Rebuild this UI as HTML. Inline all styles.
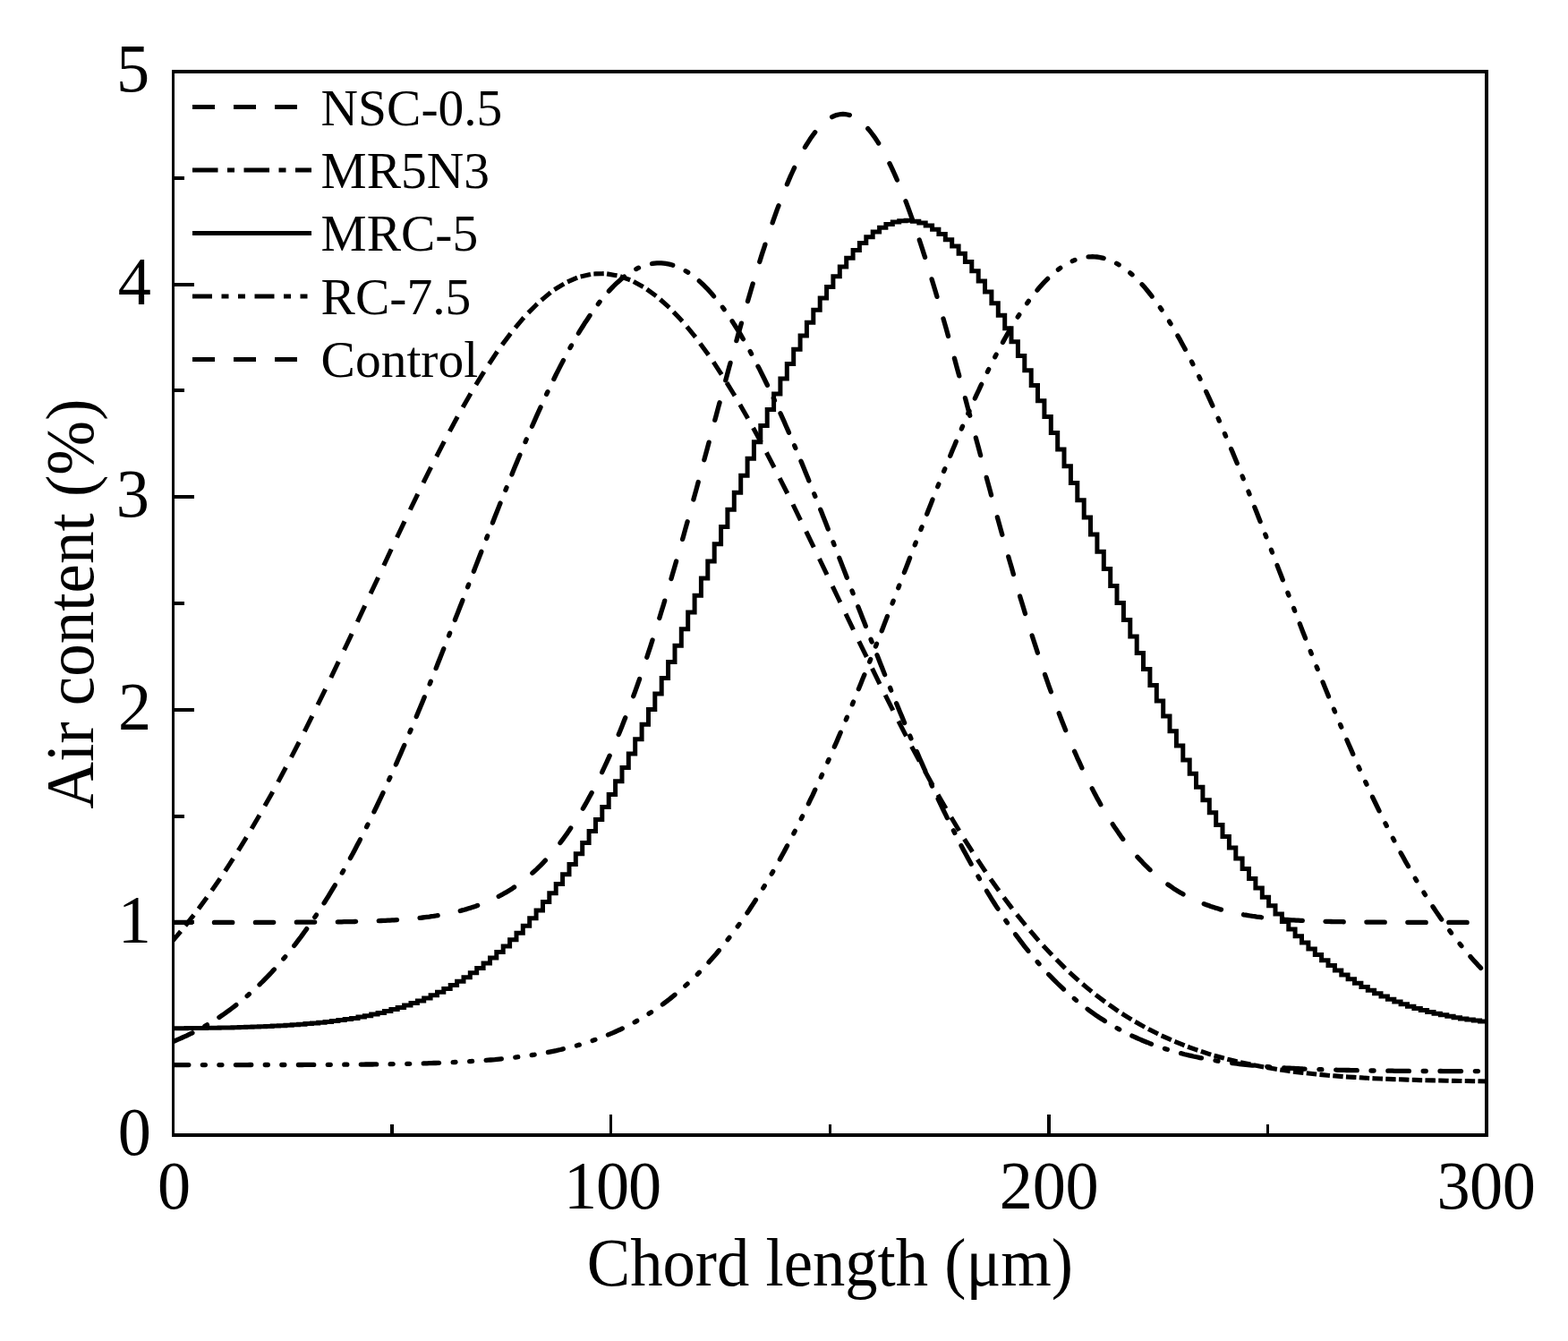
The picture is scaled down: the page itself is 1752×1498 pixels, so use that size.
<!DOCTYPE html>
<html lang="en"><head><meta charset="utf-8"><title>Air content vs chord length</title>
<style>html,body{margin:0;padding:0;background:#fff}body{width:1752px;height:1498px;overflow:hidden}svg{display:block}text{font-family:"Liberation Serif","Times New Roman",serif;fill:#000}</style>
</head><body>
<svg width="1752" height="1498" viewBox="0 0 1752 1498" role="img" aria-label="Air content versus chord length">
<rect x="0" y="0" width="1752" height="1498" fill="#fff"/>
<defs><clipPath id="plot"><rect x="192" y="78" width="1471" height="1192"/></clipPath></defs>
<g clip-path="url(#plot)" fill="none" stroke="#000" stroke-linecap="round" stroke-linejoin="round">
<path d="M193.9 1049.9 L200.3 1042.4 M208.6 1032.2 L215.0 1024.1 M223.4 1013.1 L229.7 1004.5 M238.1 992.7 L244.5 983.5 M252.9 971.0 L259.2 961.2 M267.6 948.0 L274.0 937.6 M282.4 923.6 L288.7 912.8 M297.1 898.1 L303.5 886.7 M311.9 871.4 L318.2 859.5 M326.6 843.6 L333.0 831.3 M341.4 814.8 L347.7 802.1 M356.1 785.1 L362.5 772.1 M370.9 754.7 L377.2 741.4 M385.6 723.8 L392.0 710.3 M400.4 692.4 L406.7 678.9 M415.1 660.9 L421.5 647.3 M429.9 629.4 L436.2 615.8 M444.6 598.1 L451.0 584.7 M459.4 567.2 L465.7 554.1 M474.1 537.0 L480.5 524.2 M488.9 507.7 L495.2 495.4 M503.6 479.6 L510.0 467.8 M518.4 452.8 L524.7 441.7 M533.1 427.7 L539.5 417.4 M547.9 404.4 L554.2 394.9 M562.6 383.1 L569.0 374.6 M577.4 364.1 L583.7 356.7 M592.1 347.6 L598.5 341.2 M606.9 333.6 L613.2 328.4 M621.6 322.3 L628.0 318.4 M636.4 313.9 L642.7 311.2 M651.1 308.4 L657.5 307.0 M665.9 305.9 L672.2 305.7 M680.6 306.3 L687.0 307.4 M695.3 309.6 L701.7 311.9 M710.1 315.7 L716.5 319.2 M724.8 324.6 L731.2 329.3 M739.6 336.2 L746.0 341.9 M754.3 350.3 L760.7 357.1 M769.1 366.8 L775.5 374.7 M783.8 385.7 L790.2 394.5 M798.6 406.6 L804.9 416.3 M813.3 429.5 L819.7 440.0 M828.1 454.2 L834.4 465.3 M842.8 480.3 L849.2 492.0 M857.6 507.8 L863.9 520.0 M872.3 536.4 L878.7 549.0 M887.1 565.8 L893.4 578.8 M901.8 595.9 L908.2 609.1 M916.6 626.5 L922.9 639.7 M931.3 657.2 L937.7 670.5 M946.1 688.0 L952.4 701.2 M960.8 718.6 L967.2 731.7 M975.6 748.9 L981.9 761.8 M990.3 778.7 L996.7 791.3 M1005.1 807.8 L1011.4 820.1 M1019.8 836.1 L1026.2 848.0 M1034.6 863.5 L1040.9 875.0 M1049.3 889.9 L1055.7 901.0 M1064.1 915.2 L1070.4 925.8 M1078.8 939.4 L1085.2 949.4 M1093.6 962.3 L1099.9 971.8 M1108.3 984.0 L1114.7 993.0 M1123.1 1004.5 L1129.4 1012.9 M1137.8 1023.6 L1144.2 1031.5 M1152.6 1041.5 L1158.9 1048.9 M1167.3 1058.2 L1173.7 1065.0 M1182.1 1073.6 L1188.4 1079.9 M1196.8 1087.8 L1203.2 1093.6 M1211.6 1100.9 L1217.9 1106.1 M1226.3 1112.8 L1232.7 1117.6 M1241.1 1123.7 L1247.4 1128.1 M1255.8 1133.6 L1262.2 1137.6 M1270.5 1142.5 L1276.9 1146.1 M1285.3 1150.6 L1291.7 1153.8 M1300.0 1157.9 L1306.4 1160.7 M1314.8 1164.3 L1321.2 1166.9 M1329.5 1170.1 L1335.9 1172.4 M1344.3 1175.2 L1350.7 1177.3 M1359.0 1179.8 L1365.4 1181.5 M1373.8 1183.8 L1380.1 1185.3 M1388.5 1187.3 L1394.9 1188.6 M1403.3 1190.3 L1409.6 1191.5 M1418.0 1193.0 L1424.4 1194.1 M1432.8 1195.3 L1439.1 1196.3 M1447.5 1197.4 L1453.9 1198.1 M1462.3 1199.1 L1468.6 1199.8 M1477.0 1200.6 L1483.4 1201.2 M1491.8 1201.9 L1498.1 1202.4 M1506.5 1203.0 L1512.9 1203.4 M1521.3 1203.9 L1527.6 1204.3 M1536.0 1204.7 L1542.4 1205.0 M1550.8 1205.4 L1557.1 1205.6 M1565.5 1205.9 L1571.9 1206.1 M1580.3 1206.4 L1586.6 1206.6 M1595.0 1206.8 L1601.4 1206.9 M1609.8 1207.1 L1616.1 1207.2 M1624.5 1207.4 L1630.9 1207.5 M1639.3 1207.6 L1645.6 1207.7 M1654.0 1207.8 L1660.4 1207.9" stroke-width="5.1" stroke-linecap="square"/>
<path d="M193.5 1163.5 L195.9 1162.5 L198.4 1161.4 L200.8 1160.4 L203.3 1159.3 L205.7 1158.2 L208.2 1157.1 L210.6 1155.9 L213.1 1154.7 L215.5 1153.5 L218.0 1152.2 L220.4 1151.0 L222.8 1149.6 L225.3 1148.3 L227.7 1146.9 L230.2 1145.5 L232.6 1144.1 L235.1 1142.6 L237.5 1141.1 L240.0 1139.6 L242.4 1138.0 L244.9 1136.4 L247.3 1134.8 L249.8 1133.1 L252.2 1131.4 L254.6 1129.6 L257.1 1127.8 L259.5 1126.0 L262.0 1124.1 L264.4 1122.2 L266.9 1120.3 L269.3 1118.3 L271.8 1116.3 L274.2 1114.2 L276.7 1112.1 L279.1 1109.9 L281.6 1107.7 L284.0 1105.5 L286.4 1103.2 L288.9 1100.9 L291.3 1098.5 L293.8 1096.1 L296.2 1093.6 L298.7 1091.1 L301.1 1088.6 L303.6 1086.0 L306.0 1083.3 L308.5 1080.6 L310.9 1077.9 L313.3 1075.1 L315.8 1072.2 L318.2 1069.4 L320.7 1066.4 L323.1 1063.4 L325.6 1060.4 L328.0 1057.3 L330.5 1054.1 L332.9 1050.9 L335.4 1047.7 L337.8 1044.4 L340.2 1041.0 L342.7 1037.6 L345.1 1034.2 L347.6 1030.7 L350.0 1027.1 L352.5 1023.5 L354.9 1019.8 L357.4 1016.1 L359.8 1012.3 L362.3 1008.5 L364.7 1004.6 L367.2 1000.7 L369.6 996.7 L372.0 992.6 L374.5 988.5 L376.9 984.4 L379.4 980.2 L381.8 975.9 L384.3 971.6 L386.7 967.2 L389.2 962.8 L391.6 958.3 L394.1 953.8 L396.5 949.2 L398.9 944.6 L401.4 939.9 L403.8 935.1 L406.3 930.3 L408.7 925.5 L411.2 920.6 L413.6 915.7 L416.1 910.7 L418.5 905.6 L421.0 900.5 L423.4 895.4 L425.9 890.2 L428.3 885.0 L430.7 879.7 L433.2 874.3 L435.6 869.0 L438.1 863.5 L440.5 858.1 L443.0 852.6 L445.4 847.0 L447.9 841.4 L450.3 835.8 L452.8 830.1 L455.2 824.4 L457.6 818.6 L460.1 812.8 L462.5 807.0 L465.0 801.1 L467.4 795.2 L469.9 789.3 L472.3 783.4 L474.8 777.4 L477.2 771.3 L479.7 765.3 L482.1 759.2 L484.6 753.1 L487.0 747.0 L489.4 740.8 L491.9 734.6 L494.3 728.4 L496.8 722.2 L499.2 716.0 L501.7 709.7 L504.1 703.4 L506.6 697.1 L509.0 690.8 L511.5 684.5 L513.9 678.2 L516.4 671.9 L518.8 665.6 L521.2 659.2 L523.7 652.9 L526.1 646.6 L528.6 640.2 L531.0 633.9 L533.5 627.6 L535.9 621.2 L538.4 614.9 L540.8 608.6 L543.3 602.3 L545.7 596.0 L548.1 589.8 L550.6 583.5 L553.0 577.3 L555.5 571.1 L557.9 564.9 L560.4 558.7 L562.8 552.6 L565.3 546.4 L567.7 540.4 L570.2 534.3 L572.6 528.3 L575.0 522.3 L577.5 516.4 L579.9 510.5 L582.4 504.6 L584.8 498.8 L587.3 493.0 L589.7 487.3 L592.2 481.6 L594.6 476.0 L597.1 470.4 L599.5 464.9 L602.0 459.4 L604.4 454.0 L606.8 448.7 L609.3 443.4 L611.7 438.2 L614.2 433.0 L616.6 428.0 L619.1 423.0 L621.5 418.0 L624.0 413.1 L626.4 408.4 L628.9 403.6 L631.3 399.0 L633.8 394.5 L636.2 390.0 L638.6 385.6 L641.1 381.3 L643.5 377.1 L646.0 372.9 L648.4 368.9 L650.9 365.0 L653.3 361.1 L655.8 357.4 L658.2 353.7 L660.7 350.1 L663.1 346.7 L665.5 343.3 L668.0 340.0 L670.4 336.9 L672.9 333.8 L675.3 330.9 L677.8 328.0 L680.2 325.3 L682.7 322.6 L685.1 320.1 L687.6 317.7 L690.0 315.4 L692.5 313.2 L694.9 311.1 L697.3 309.2 L699.8 307.3 L702.2 305.6 L704.7 304.0 L707.1 302.5 L709.6 301.1 L712.0 299.9 L714.5 298.7 L716.9 297.7 L719.4 296.8 L721.8 296.0 L724.2 295.4 L726.7 294.8 L729.1 294.4 L731.6 294.1 L734.0 293.9 L736.5 293.8 L738.9 293.9 L741.4 294.1 L743.8 294.4 L746.3 294.8 L748.7 295.4 L751.1 296.0 L753.6 296.8 L756.0 297.7 L758.5 298.7 L760.9 299.9 L763.4 301.1 L765.8 302.5 L768.3 304.0 L770.7 305.6 L773.2 307.3 L775.6 309.2 L778.1 311.1 L780.5 313.2 L782.9 315.4 L785.4 317.7 L787.8 320.1 L790.3 322.6 L792.7 325.3 L795.2 328.0 L797.6 330.9 L800.1 333.8 L802.5 336.9 L805.0 340.0 L807.4 343.3 L809.9 346.7 L812.3 350.1 L814.7 353.7 L817.2 357.4 L819.6 361.1 L822.1 365.0 L824.5 368.9 L827.0 372.9 L829.4 377.1 L831.9 381.3 L834.3 385.6 L836.8 390.0 L839.2 394.5 L841.6 399.0 L844.1 403.6 L846.5 408.4 L849.0 413.1 L851.4 418.0 L853.9 423.0 L856.3 428.0 L858.8 433.0 L861.2 438.2 L863.7 443.4 L866.1 448.7 L868.5 454.0 L871.0 459.4 L873.4 464.9 L875.9 470.4 L878.3 476.0 L880.8 481.6 L883.2 487.3 L885.7 493.0 L888.1 498.8 L890.6 504.6 L893.0 510.5 L895.5 516.4 L897.9 522.3 L900.3 528.3 L902.8 534.3 L905.2 540.4 L907.7 546.4 L910.1 552.6 L912.6 558.7 L915.0 564.9 L917.5 571.1 L919.9 577.3 L922.4 583.5 L924.8 589.8 L927.2 596.0 L929.7 602.3 L932.1 608.6 L934.6 614.9 L937.0 621.2 L939.5 627.6 L941.9 633.9 L944.4 640.2 L946.8 646.6 L949.3 652.9 L951.7 659.2 L954.2 665.6 L956.6 671.9 L959.0 678.2 L961.5 684.5 L963.9 690.8 L966.4 697.1 L968.8 703.4 L971.3 709.7 L973.7 716.0 L976.2 722.2 L978.6 728.4 L981.1 734.6 L983.5 740.8 L986.0 747.0 L988.4 753.1 L990.8 759.2 L993.3 765.3 L995.7 771.3 L998.2 777.4 L1000.6 783.4 L1003.1 789.3 L1005.5 795.2 L1008.0 801.1 L1010.4 807.0 L1012.9 812.8 L1015.3 818.6 L1017.7 824.4 L1020.2 830.1 L1022.6 835.8 L1025.1 841.4 L1027.5 847.0 L1030.0 852.6 L1032.4 858.1 L1034.9 863.5 L1037.3 869.0 L1039.8 874.3 L1042.2 879.7 L1044.7 885.0 L1047.1 890.2 L1049.5 895.4 L1052.0 900.5 L1054.4 905.6 L1056.9 910.7 L1059.3 915.7 L1061.8 920.6 L1064.2 925.5 L1066.7 930.3 L1069.1 935.1 L1071.6 939.9 L1074.0 944.6 L1076.4 949.2 L1078.9 953.8 L1081.3 958.3 L1083.8 962.8 L1086.2 967.2 L1088.7 971.6 L1091.1 975.9 L1093.6 980.2 L1096.0 984.4 L1098.5 988.5 L1100.9 992.6 L1103.3 996.7 L1105.8 1000.7 L1108.2 1004.6 L1110.7 1008.5 L1113.1 1012.3 L1115.6 1016.1 L1118.0 1019.8 L1120.5 1023.5 L1122.9 1027.1 L1125.4 1030.7 L1127.8 1034.2 L1130.3 1037.6 L1132.7 1041.0 L1135.1 1044.4 L1137.6 1047.7 L1140.0 1050.9 L1142.5 1054.1 L1144.9 1057.3 L1147.4 1060.4 L1149.8 1063.4 L1152.3 1066.4 L1154.7 1069.4 L1157.2 1072.2 L1159.6 1075.1 L1162.0 1077.9 L1164.5 1080.6 L1166.9 1083.3 L1169.4 1086.0 L1171.8 1088.6 L1174.3 1091.1 L1176.7 1093.6 L1179.2 1096.1 L1181.6 1098.5 L1184.1 1100.9 L1186.5 1103.2 L1189.0 1105.5 L1191.4 1107.7 L1193.8 1109.9 L1196.3 1112.1 L1198.7 1114.2 L1201.2 1116.3 L1203.6 1118.3 L1206.1 1120.3 L1208.5 1122.2 L1211.0 1124.1 L1213.4 1126.0 L1215.9 1127.8 L1218.3 1129.6 L1220.8 1131.4 L1223.2 1133.1 L1225.6 1134.8 L1228.1 1136.4 L1230.5 1138.0 L1233.0 1139.6 L1235.4 1141.1 L1237.9 1142.6 L1240.3 1144.1 L1242.8 1145.5 L1245.2 1146.9 L1247.7 1148.3 L1250.1 1149.6 L1252.5 1151.0 L1255.0 1152.2 L1257.4 1153.5 L1259.9 1154.7 L1262.3 1155.9 L1264.8 1157.1 L1267.2 1158.2 L1269.7 1159.3 L1272.1 1160.4 L1274.6 1161.4 L1277.0 1162.5 L1279.5 1163.5 L1281.9 1164.4 L1284.3 1165.4 L1286.8 1166.3 L1289.2 1167.2 L1291.7 1168.1 L1294.1 1169.0 L1296.6 1169.8 L1299.0 1170.6 L1301.5 1171.4 L1303.9 1172.2 L1306.4 1172.9 L1308.8 1173.7 L1311.2 1174.4 L1313.7 1175.1 L1316.1 1175.7 L1318.6 1176.4 L1321.0 1177.0 L1323.5 1177.7 L1325.9 1178.3 L1328.4 1178.9 L1330.8 1179.4 L1333.3 1180.0 L1335.7 1180.5 L1338.2 1181.0 L1340.6 1181.6 L1343.0 1182.0 L1345.5 1182.5 L1347.9 1183.0 L1350.4 1183.4 L1352.8 1183.9 L1355.3 1184.3 L1357.7 1184.7 L1360.2 1185.1 L1362.6 1185.5 L1365.1 1185.9 L1367.5 1186.3 L1369.9 1186.6 L1372.4 1187.0 L1374.8 1187.3 L1377.3 1187.6 L1379.7 1187.9 L1382.2 1188.2 L1384.6 1188.5 L1387.1 1188.8 L1389.5 1189.1 L1392.0 1189.4 L1394.4 1189.6 L1396.8 1189.9 L1399.3 1190.1 L1401.7 1190.4 L1404.2 1190.6 L1406.6 1190.8 L1409.1 1191.0 L1411.5 1191.2 L1414.0 1191.4 L1416.4 1191.6 L1418.9 1191.8 L1421.3 1192.0 L1423.8 1192.2 L1426.2 1192.3 L1428.6 1192.5 L1431.1 1192.7 L1433.5 1192.8 L1436.0 1193.0 L1438.4 1193.1 L1440.9 1193.2 L1443.3 1193.4 L1445.8 1193.5 L1448.2 1193.6 L1450.7 1193.7 L1453.1 1193.8 L1455.5 1194.0 L1458.0 1194.1 L1460.4 1194.2 L1462.9 1194.3 L1465.3 1194.4 L1467.8 1194.5 L1470.2 1194.5 L1472.7 1194.6 L1475.1 1194.7 L1477.6 1194.8 L1480.0 1194.9 L1482.5 1194.9 L1484.9 1195.0 L1487.3 1195.1 L1489.8 1195.1 L1492.2 1195.2 L1494.7 1195.3 L1497.1 1195.3 L1499.6 1195.4 L1502.0 1195.4 L1504.5 1195.5 L1506.9 1195.5 L1509.4 1195.6 L1511.8 1195.6 L1514.2 1195.7 L1516.7 1195.7 L1519.1 1195.8 L1521.6 1195.8 L1524.0 1195.8 L1526.5 1195.9 L1528.9 1195.9 L1531.4 1196.0 L1533.8 1196.0 L1536.3 1196.0 L1538.7 1196.0 L1541.2 1196.1 L1543.6 1196.1 L1546.0 1196.1 L1548.5 1196.2 L1550.9 1196.2 L1553.4 1196.2 L1555.8 1196.2 L1558.3 1196.3 L1560.7 1196.3 L1563.2 1196.3 L1565.6 1196.3 L1568.1 1196.3 L1570.5 1196.3 L1573.0 1196.4 L1575.4 1196.4 L1577.8 1196.4 L1580.3 1196.4 L1582.7 1196.4 L1585.2 1196.4 L1587.6 1196.4 L1590.1 1196.5 L1592.5 1196.5 L1595.0 1196.5 L1597.4 1196.5 L1599.9 1196.5 L1602.3 1196.5 L1604.7 1196.5 L1607.2 1196.5 L1609.6 1196.5 L1612.1 1196.6 L1614.5 1196.6 L1617.0 1196.6 L1619.4 1196.6 L1621.9 1196.6 L1624.3 1196.6 L1626.8 1196.6 L1629.2 1196.6 L1631.7 1196.6 L1634.1 1196.6 L1636.5 1196.6 L1639.0 1196.6 L1641.4 1196.6 L1643.9 1196.6 L1646.3 1196.6 L1648.8 1196.6 L1651.2 1196.6 L1653.7 1196.6 L1656.1 1196.7 L1658.6 1196.7 L1661.0 1196.7" stroke-width="5.3" stroke-dasharray="23.5 15.84 3 15.84" stroke-dashoffset="0"/>
<path d="M193.5 1189.6 L195.9 1189.6 L198.4 1189.6 L200.8 1189.6 L203.3 1189.6 L205.7 1189.6 L208.2 1189.6 L210.6 1189.6 L213.1 1189.6 L215.5 1189.6 L218.0 1189.6 L220.4 1189.6 L222.8 1189.6 L225.3 1189.6 L227.7 1189.6 L230.2 1189.6 L232.6 1189.6 L235.1 1189.6 L237.5 1189.6 L240.0 1189.6 L242.4 1189.6 L244.9 1189.6 L247.3 1189.6 L249.8 1189.6 L252.2 1189.6 L254.6 1189.6 L257.1 1189.6 L259.5 1189.6 L262.0 1189.6 L264.4 1189.6 L266.9 1189.6 L269.3 1189.6 L271.8 1189.6 L274.2 1189.6 L276.7 1189.6 L279.1 1189.5 L281.6 1189.5 L284.0 1189.5 L286.4 1189.5 L288.9 1189.5 L291.3 1189.5 L293.8 1189.5 L296.2 1189.5 L298.7 1189.5 L301.1 1189.5 L303.6 1189.5 L306.0 1189.5 L308.5 1189.5 L310.9 1189.5 L313.3 1189.5 L315.8 1189.5 L318.2 1189.5 L320.7 1189.5 L323.1 1189.5 L325.6 1189.5 L328.0 1189.5 L330.5 1189.5 L332.9 1189.5 L335.4 1189.5 L337.8 1189.5 L340.2 1189.4 L342.7 1189.4 L345.1 1189.4 L347.6 1189.4 L350.0 1189.4 L352.5 1189.4 L354.9 1189.4 L357.4 1189.4 L359.8 1189.4 L362.3 1189.4 L364.7 1189.4 L367.2 1189.3 L369.6 1189.3 L372.0 1189.3 L374.5 1189.3 L376.9 1189.3 L379.4 1189.3 L381.8 1189.3 L384.3 1189.2 L386.7 1189.2 L389.2 1189.2 L391.6 1189.2 L394.1 1189.2 L396.5 1189.2 L398.9 1189.1 L401.4 1189.1 L403.8 1189.1 L406.3 1189.1 L408.7 1189.0 L411.2 1189.0 L413.6 1189.0 L416.1 1189.0 L418.5 1188.9 L421.0 1188.9 L423.4 1188.9 L425.9 1188.8 L428.3 1188.8 L430.7 1188.8 L433.2 1188.7 L435.6 1188.7 L438.1 1188.7 L440.5 1188.6 L443.0 1188.6 L445.4 1188.5 L447.9 1188.5 L450.3 1188.4 L452.8 1188.4 L455.2 1188.3 L457.6 1188.3 L460.1 1188.2 L462.5 1188.2 L465.0 1188.1 L467.4 1188.1 L469.9 1188.0 L472.3 1187.9 L474.8 1187.9 L477.2 1187.8 L479.7 1187.7 L482.1 1187.6 L484.6 1187.5 L487.0 1187.5 L489.4 1187.4 L491.9 1187.3 L494.3 1187.2 L496.8 1187.1 L499.2 1187.0 L501.7 1186.9 L504.1 1186.8 L506.6 1186.7 L509.0 1186.5 L511.5 1186.4 L513.9 1186.3 L516.4 1186.2 L518.8 1186.0 L521.2 1185.9 L523.7 1185.7 L526.1 1185.6 L528.6 1185.4 L531.0 1185.3 L533.5 1185.1 L535.9 1184.9 L538.4 1184.8 L540.8 1184.6 L543.3 1184.4 L545.7 1184.2 L548.1 1184.0 L550.6 1183.8 L553.0 1183.6 L555.5 1183.3 L557.9 1183.1 L560.4 1182.9 L562.8 1182.6 L565.3 1182.4 L567.7 1182.1 L570.2 1181.8 L572.6 1181.5 L575.0 1181.2 L577.5 1180.9 L579.9 1180.6 L582.4 1180.3 L584.8 1180.0 L587.3 1179.6 L589.7 1179.3 L592.2 1178.9 L594.6 1178.5 L597.1 1178.2 L599.5 1177.8 L602.0 1177.3 L604.4 1176.9 L606.8 1176.5 L609.3 1176.0 L611.7 1175.6 L614.2 1175.1 L616.6 1174.6 L619.1 1174.1 L621.5 1173.6 L624.0 1173.0 L626.4 1172.5 L628.9 1171.9 L631.3 1171.3 L633.8 1170.7 L636.2 1170.1 L638.6 1169.5 L641.1 1168.8 L643.5 1168.2 L646.0 1167.5 L648.4 1166.8 L650.9 1166.1 L653.3 1165.3 L655.8 1164.5 L658.2 1163.7 L660.7 1162.9 L663.1 1162.1 L665.5 1161.3 L668.0 1160.4 L670.4 1159.5 L672.9 1158.6 L675.3 1157.6 L677.8 1156.6 L680.2 1155.6 L682.7 1154.6 L685.1 1153.6 L687.6 1152.5 L690.0 1151.4 L692.5 1150.3 L694.9 1149.1 L697.3 1147.9 L699.8 1146.7 L702.2 1145.5 L704.7 1144.2 L707.1 1142.9 L709.6 1141.6 L712.0 1140.2 L714.5 1138.8 L716.9 1137.4 L719.4 1135.9 L721.8 1134.4 L724.2 1132.9 L726.7 1131.3 L729.1 1129.7 L731.6 1128.1 L734.0 1126.4 L736.5 1124.7 L738.9 1122.9 L741.4 1121.2 L743.8 1119.3 L746.3 1117.5 L748.7 1115.6 L751.1 1113.6 L753.6 1111.7 L756.0 1109.6 L758.5 1107.6 L760.9 1105.5 L763.4 1103.3 L765.8 1101.1 L768.3 1098.9 L770.7 1096.6 L773.2 1094.3 L775.6 1091.9 L778.1 1089.5 L780.5 1087.1 L782.9 1084.6 L785.4 1082.0 L787.8 1079.4 L790.3 1076.8 L792.7 1074.1 L795.2 1071.3 L797.6 1068.5 L800.1 1065.7 L802.5 1062.8 L805.0 1059.9 L807.4 1056.9 L809.9 1053.8 L812.3 1050.7 L814.7 1047.6 L817.2 1044.4 L819.6 1041.2 L822.1 1037.9 L824.5 1034.5 L827.0 1031.1 L829.4 1027.6 L831.9 1024.1 L834.3 1020.6 L836.8 1017.0 L839.2 1013.3 L841.6 1009.6 L844.1 1005.8 L846.5 1002.0 L849.0 998.1 L851.4 994.1 L853.9 990.1 L856.3 986.1 L858.8 982.0 L861.2 977.8 L863.7 973.6 L866.1 969.4 L868.5 965.0 L871.0 960.7 L873.4 956.2 L875.9 951.8 L878.3 947.2 L880.8 942.6 L883.2 938.0 L885.7 933.3 L888.1 928.6 L890.6 923.8 L893.0 918.9 L895.5 914.0 L897.9 909.1 L900.3 904.1 L902.8 899.0 L905.2 893.9 L907.7 888.8 L910.1 883.6 L912.6 878.3 L915.0 873.0 L917.5 867.7 L919.9 862.3 L922.4 856.9 L924.8 851.4 L927.2 845.9 L929.7 840.3 L932.1 834.7 L934.6 829.1 L937.0 823.4 L939.5 817.6 L941.9 811.9 L944.4 806.1 L946.8 800.2 L949.3 794.4 L951.7 788.4 L954.2 782.5 L956.6 776.5 L959.0 770.5 L961.5 764.5 L963.9 758.4 L966.4 752.3 L968.8 746.2 L971.3 740.0 L973.7 733.9 L976.2 727.7 L978.6 721.5 L981.1 715.2 L983.5 709.0 L986.0 702.7 L988.4 696.4 L990.8 690.1 L993.3 683.8 L995.7 677.5 L998.2 671.2 L1000.6 664.8 L1003.1 658.5 L1005.5 652.1 L1008.0 645.8 L1010.4 639.4 L1012.9 633.1 L1015.3 626.7 L1017.7 620.4 L1020.2 614.0 L1022.6 607.7 L1025.1 601.4 L1027.5 595.1 L1030.0 588.8 L1032.4 582.5 L1034.9 576.2 L1037.3 570.0 L1039.8 563.8 L1042.2 557.5 L1044.7 551.4 L1047.1 545.2 L1049.5 539.1 L1052.0 533.0 L1054.4 526.9 L1056.9 520.9 L1059.3 514.9 L1061.8 509.0 L1064.2 503.0 L1066.7 497.2 L1069.1 491.3 L1071.6 485.5 L1074.0 479.8 L1076.4 474.1 L1078.9 468.5 L1081.3 462.9 L1083.8 457.4 L1086.2 451.9 L1088.7 446.5 L1091.1 441.1 L1093.6 435.9 L1096.0 430.6 L1098.5 425.5 L1100.9 420.4 L1103.3 415.4 L1105.8 410.4 L1108.2 405.6 L1110.7 400.8 L1113.1 396.1 L1115.6 391.4 L1118.0 386.9 L1120.5 382.4 L1122.9 378.0 L1125.4 373.7 L1127.8 369.5 L1130.3 365.4 L1132.7 361.3 L1135.1 357.4 L1137.6 353.5 L1140.0 349.8 L1142.5 346.1 L1144.9 342.5 L1147.4 339.1 L1149.8 335.7 L1152.3 332.5 L1154.7 329.3 L1157.2 326.3 L1159.6 323.3 L1162.0 320.5 L1164.5 317.7 L1166.9 315.1 L1169.4 312.6 L1171.8 310.2 L1174.3 307.9 L1176.7 305.8 L1179.2 303.7 L1181.6 301.8 L1184.1 299.9 L1186.5 298.2 L1189.0 296.6 L1191.4 295.1 L1193.8 293.8 L1196.3 292.5 L1198.7 291.4 L1201.2 290.4 L1203.6 289.5 L1206.1 288.8 L1208.5 288.1 L1211.0 287.6 L1213.4 287.2 L1215.9 286.9 L1218.3 286.8 L1220.8 286.7 L1223.2 286.8 L1225.6 287.0 L1228.1 287.3 L1230.5 287.8 L1233.0 288.4 L1235.4 289.0 L1237.9 289.9 L1240.3 290.8 L1242.8 291.8 L1245.2 293.0 L1247.7 294.3 L1250.1 295.7 L1252.5 297.2 L1255.0 298.9 L1257.4 300.6 L1259.9 302.5 L1262.3 304.5 L1264.8 306.6 L1267.2 308.8 L1269.7 311.2 L1272.1 313.6 L1274.6 316.2 L1277.0 318.8 L1279.5 321.6 L1281.9 324.5 L1284.3 327.5 L1286.8 330.6 L1289.2 333.8 L1291.7 337.1 L1294.1 340.5 L1296.6 344.0 L1299.0 347.6 L1301.5 351.3 L1303.9 355.0 L1306.4 358.9 L1308.8 362.9 L1311.2 367.0 L1313.7 371.2 L1316.1 375.4 L1318.6 379.7 L1321.0 384.2 L1323.5 388.7 L1325.9 393.3 L1328.4 397.9 L1330.8 402.7 L1333.3 407.5 L1335.7 412.4 L1338.2 417.4 L1340.6 422.4 L1343.0 427.5 L1345.5 432.7 L1347.9 438.0 L1350.4 443.3 L1352.8 448.7 L1355.3 454.1 L1357.7 459.6 L1360.2 465.1 L1362.6 470.7 L1365.1 476.4 L1367.5 482.1 L1369.9 487.9 L1372.4 493.7 L1374.8 499.5 L1377.3 505.4 L1379.7 511.3 L1382.2 517.3 L1384.6 523.3 L1387.1 529.4 L1389.5 535.4 L1392.0 541.5 L1394.4 547.7 L1396.8 553.8 L1399.3 560.0 L1401.7 566.2 L1404.2 572.5 L1406.6 578.7 L1409.1 585.0 L1411.5 591.3 L1414.0 597.6 L1416.4 603.9 L1418.9 610.2 L1421.3 616.6 L1423.8 622.9 L1426.2 629.3 L1428.6 635.6 L1431.1 642.0 L1433.5 648.3 L1436.0 654.7 L1438.4 661.0 L1440.9 667.4 L1443.3 673.7 L1445.8 680.0 L1448.2 686.3 L1450.7 692.6 L1453.1 698.9 L1455.5 705.2 L1458.0 711.5 L1460.4 717.7 L1462.9 724.0 L1465.3 730.2 L1467.8 736.3 L1470.2 742.5 L1472.7 748.6 L1475.1 754.8 L1477.6 760.8 L1480.0 766.9 L1482.5 772.9 L1484.9 778.9 L1487.3 784.9 L1489.8 790.8 L1492.2 796.7 L1494.7 802.6 L1497.1 808.4 L1499.6 814.2 L1502.0 819.9 L1504.5 825.6 L1506.9 831.3 L1509.4 836.9 L1511.8 842.5 L1514.2 848.1 L1516.7 853.6 L1519.1 859.0 L1521.6 864.5 L1524.0 869.8 L1526.5 875.1 L1528.9 880.4 L1531.4 885.7 L1533.8 890.8 L1536.3 896.0 L1538.7 901.0 L1541.2 906.1 L1543.6 911.1 L1546.0 916.0 L1548.5 920.9 L1550.9 925.7 L1553.4 930.5 L1555.8 935.2 L1558.3 939.9 L1560.7 944.5 L1563.2 949.0 L1565.6 953.6 L1568.1 958.0 L1570.5 962.4 L1573.0 966.8 L1575.4 971.1 L1577.8 975.3 L1580.3 979.5 L1582.7 983.6 L1585.2 987.7 L1587.6 991.7 L1590.1 995.7 L1592.5 999.6 L1595.0 1003.5 L1597.4 1007.3 L1599.9 1011.1 L1602.3 1014.8 L1604.7 1018.4 L1607.2 1022.0 L1609.6 1025.5 L1612.1 1029.0 L1614.5 1032.5 L1617.0 1035.9 L1619.4 1039.2 L1621.9 1042.5 L1624.3 1045.7 L1626.8 1048.9 L1629.2 1052.0 L1631.7 1055.1 L1634.1 1058.1 L1636.5 1061.0 L1639.0 1064.0 L1641.4 1066.8 L1643.9 1069.7 L1646.3 1072.4 L1648.8 1075.1 L1651.2 1077.8 L1653.7 1080.4 L1656.1 1083.0 L1658.6 1085.6 L1661.0 1088.0" stroke-width="5.3" stroke-dasharray="17.3 15.55 3 15.55 3 15.55" stroke-dashoffset="0"/>
<path d="M193.5 1030.4 L195.9 1030.4 L198.4 1030.4 L200.8 1030.4 L203.3 1030.4 L205.7 1030.4 L208.2 1030.4 L210.6 1030.4 L213.1 1030.4 L215.5 1030.4 L218.0 1030.4 L220.4 1030.4 L222.8 1030.4 L225.3 1030.4 L227.7 1030.4 L230.2 1030.4 L232.6 1030.4 L235.1 1030.4 L237.5 1030.4 L240.0 1030.4 L242.4 1030.4 L244.9 1030.4 L247.3 1030.4 L249.8 1030.4 L252.2 1030.4 L254.6 1030.4 L257.1 1030.4 L259.5 1030.4 L262.0 1030.4 L264.4 1030.4 L266.9 1030.4 L269.3 1030.4 L271.8 1030.4 L274.2 1030.4 L276.7 1030.4 L279.1 1030.4 L281.6 1030.4 L284.0 1030.4 L286.4 1030.4 L288.9 1030.4 L291.3 1030.4 L293.8 1030.3 L296.2 1030.3 L298.7 1030.3 L301.1 1030.3 L303.6 1030.3 L306.0 1030.3 L308.5 1030.3 L310.9 1030.3 L313.3 1030.3 L315.8 1030.3 L318.2 1030.3 L320.7 1030.3 L323.1 1030.3 L325.6 1030.3 L328.0 1030.3 L330.5 1030.2 L332.9 1030.2 L335.4 1030.2 L337.8 1030.2 L340.2 1030.2 L342.7 1030.2 L345.1 1030.2 L347.6 1030.2 L350.0 1030.1 L352.5 1030.1 L354.9 1030.1 L357.4 1030.1 L359.8 1030.1 L362.3 1030.0 L364.7 1030.0 L367.2 1030.0 L369.6 1030.0 L372.0 1029.9 L374.5 1029.9 L376.9 1029.9 L379.4 1029.8 L381.8 1029.8 L384.3 1029.7 L386.7 1029.7 L389.2 1029.7 L391.6 1029.6 L394.1 1029.6 L396.5 1029.5 L398.9 1029.4 L401.4 1029.4 L403.8 1029.3 L406.3 1029.2 L408.7 1029.2 L411.2 1029.1 L413.6 1029.0 L416.1 1028.9 L418.5 1028.8 L421.0 1028.7 L423.4 1028.6 L425.9 1028.5 L428.3 1028.4 L430.7 1028.3 L433.2 1028.2 L435.6 1028.1 L438.1 1027.9 L440.5 1027.8 L443.0 1027.6 L445.4 1027.4 L447.9 1027.3 L450.3 1027.1 L452.8 1026.9 L455.2 1026.7 L457.6 1026.5 L460.1 1026.3 L462.5 1026.1 L465.0 1025.8 L467.4 1025.6 L469.9 1025.3 L472.3 1025.0 L474.8 1024.7 L477.2 1024.4 L479.7 1024.1 L482.1 1023.7 L484.6 1023.4 L487.0 1023.0 L489.4 1022.6 L491.9 1022.2 L494.3 1021.8 L496.8 1021.3 L499.2 1020.9 L501.7 1020.4 L504.1 1019.9 L506.6 1019.3 L509.0 1018.8 L511.5 1018.2 L513.9 1017.6 L516.4 1016.9 L518.8 1016.3 L521.2 1015.6 L523.7 1014.8 L526.1 1014.1 L528.6 1013.3 L531.0 1012.5 L533.5 1011.6 L535.9 1010.7 L538.4 1009.8 L540.8 1008.9 L543.3 1007.9 L545.7 1006.8 L548.1 1005.7 L550.6 1004.6 L553.0 1003.4 L555.5 1002.2 L557.9 1001.0 L560.4 999.7 L562.8 998.3 L565.3 996.9 L567.7 995.4 L570.2 993.9 L572.6 992.4 L575.0 990.7 L577.5 989.0 L579.9 987.3 L582.4 985.5 L584.8 983.6 L587.3 981.7 L589.7 979.7 L592.2 977.7 L594.6 975.5 L597.1 973.3 L599.5 971.1 L602.0 968.7 L604.4 966.3 L606.8 963.8 L609.3 961.2 L611.7 958.6 L614.2 955.8 L616.6 953.0 L619.1 950.1 L621.5 947.1 L624.0 944.1 L626.4 940.9 L628.9 937.6 L631.3 934.3 L633.8 930.9 L636.2 927.3 L638.6 923.7 L641.1 920.0 L643.5 916.2 L646.0 912.2 L648.4 908.2 L650.9 904.1 L653.3 899.9 L655.8 895.5 L658.2 891.1 L660.7 886.5 L663.1 881.9 L665.5 877.1 L668.0 872.3 L670.4 867.3 L672.9 862.2 L675.3 857.0 L677.8 851.7 L680.2 846.3 L682.7 840.8 L685.1 835.1 L687.6 829.4 L690.0 823.5 L692.5 817.5 L694.9 811.5 L697.3 805.3 L699.8 799.0 L702.2 792.5 L704.7 786.0 L707.1 779.4 L709.6 772.6 L712.0 765.8 L714.5 758.8 L716.9 751.7 L719.4 744.6 L721.8 737.3 L724.2 729.9 L726.7 722.4 L729.1 714.8 L731.6 707.2 L734.0 699.4 L736.5 691.5 L738.9 683.6 L741.4 675.5 L743.8 667.4 L746.3 659.2 L748.7 650.9 L751.1 642.6 L753.6 634.1 L756.0 625.6 L758.5 617.0 L760.9 608.4 L763.4 599.7 L765.8 590.9 L768.3 582.1 L770.7 573.2 L773.2 564.3 L775.6 555.4 L778.1 546.4 L780.5 537.4 L782.9 528.3 L785.4 519.2 L787.8 510.1 L790.3 501.0 L792.7 491.9 L795.2 482.8 L797.6 473.6 L800.1 464.5 L802.5 455.4 L805.0 446.3 L807.4 437.2 L809.9 428.2 L812.3 419.2 L814.7 410.2 L817.2 401.3 L819.6 392.4 L822.1 383.5 L824.5 374.8 L827.0 366.1 L829.4 357.4 L831.9 348.9 L834.3 340.4 L836.8 332.0 L839.2 323.7 L841.6 315.5 L844.1 307.4 L846.5 299.5 L849.0 291.6 L851.4 283.9 L853.9 276.3 L856.3 268.8 L858.8 261.4 L861.2 254.3 L863.7 247.2 L866.1 240.3 L868.5 233.6 L871.0 227.1 L873.4 220.7 L875.9 214.5 L878.3 208.4 L880.8 202.6 L883.2 196.9 L885.7 191.5 L888.1 186.2 L890.6 181.2 L893.0 176.3 L895.5 171.7 L897.9 167.2 L900.3 163.0 L902.8 159.1 L905.2 155.3 L907.7 151.8 L910.1 148.5 L912.6 145.4 L915.0 142.6 L917.5 140.0 L919.9 137.6 L922.4 135.5 L924.8 133.6 L927.2 132.0 L929.7 130.6 L932.1 129.5 L934.6 128.6 L937.0 128.0 L939.5 127.6 L941.9 127.5 L944.4 127.6 L946.8 128.0 L949.3 128.6 L951.7 129.5 L954.2 130.6 L956.6 132.0 L959.0 133.6 L961.5 135.5 L963.9 137.6 L966.4 140.0 L968.8 142.6 L971.3 145.4 L973.7 148.5 L976.2 151.8 L978.6 155.3 L981.1 159.1 L983.5 163.0 L986.0 167.2 L988.4 171.7 L990.8 176.3 L993.3 181.2 L995.7 186.2 L998.2 191.5 L1000.6 196.9 L1003.1 202.6 L1005.5 208.4 L1008.0 214.5 L1010.4 220.7 L1012.9 227.1 L1015.3 233.6 L1017.7 240.3 L1020.2 247.2 L1022.6 254.3 L1025.1 261.4 L1027.5 268.8 L1030.0 276.3 L1032.4 283.9 L1034.9 291.6 L1037.3 299.5 L1039.8 307.4 L1042.2 315.5 L1044.7 323.7 L1047.1 332.0 L1049.5 340.4 L1052.0 348.9 L1054.4 357.4 L1056.9 366.1 L1059.3 374.8 L1061.8 383.5 L1064.2 392.4 L1066.7 401.3 L1069.1 410.2 L1071.6 419.2 L1074.0 428.2 L1076.4 437.2 L1078.9 446.3 L1081.3 455.4 L1083.8 464.5 L1086.2 473.6 L1088.7 482.8 L1091.1 491.9 L1093.6 501.0 L1096.0 510.1 L1098.5 519.2 L1100.9 528.3 L1103.3 537.4 L1105.8 546.4 L1108.2 555.4 L1110.7 564.3 L1113.1 573.2 L1115.6 582.1 L1118.0 590.9 L1120.5 599.7 L1122.9 608.4 L1125.4 617.0 L1127.8 625.6 L1130.3 634.1 L1132.7 642.6 L1135.1 650.9 L1137.6 659.2 L1140.0 667.4 L1142.5 675.5 L1144.9 683.6 L1147.4 691.5 L1149.8 699.4 L1152.3 707.2 L1154.7 714.8 L1157.2 722.4 L1159.6 729.9 L1162.0 737.3 L1164.5 744.6 L1166.9 751.7 L1169.4 758.8 L1171.8 765.8 L1174.3 772.6 L1176.7 779.4 L1179.2 786.0 L1181.6 792.5 L1184.1 799.0 L1186.5 805.3 L1189.0 811.5 L1191.4 817.5 L1193.8 823.5 L1196.3 829.4 L1198.7 835.1 L1201.2 840.8 L1203.6 846.3 L1206.1 851.7 L1208.5 857.0 L1211.0 862.2 L1213.4 867.3 L1215.9 872.3 L1218.3 877.1 L1220.8 881.9 L1223.2 886.5 L1225.6 891.1 L1228.1 895.5 L1230.5 899.9 L1233.0 904.1 L1235.4 908.2 L1237.9 912.2 L1240.3 916.2 L1242.8 920.0 L1245.2 923.7 L1247.7 927.3 L1250.1 930.9 L1252.5 934.3 L1255.0 937.6 L1257.4 940.9 L1259.9 944.1 L1262.3 947.1 L1264.8 950.1 L1267.2 953.0 L1269.7 955.8 L1272.1 958.6 L1274.6 961.2 L1277.0 963.8 L1279.5 966.3 L1281.9 968.7 L1284.3 971.1 L1286.8 973.3 L1289.2 975.5 L1291.7 977.7 L1294.1 979.7 L1296.6 981.7 L1299.0 983.6 L1301.5 985.5 L1303.9 987.3 L1306.4 989.0 L1308.8 990.7 L1311.2 992.4 L1313.7 993.9 L1316.1 995.4 L1318.6 996.9 L1321.0 998.3 L1323.5 999.7 L1325.9 1001.0 L1328.4 1002.2 L1330.8 1003.4 L1333.3 1004.6 L1335.7 1005.7 L1338.2 1006.8 L1340.6 1007.9 L1343.0 1008.9 L1345.5 1009.8 L1347.9 1010.7 L1350.4 1011.6 L1352.8 1012.5 L1355.3 1013.3 L1357.7 1014.1 L1360.2 1014.8 L1362.6 1015.6 L1365.1 1016.3 L1367.5 1016.9 L1369.9 1017.6 L1372.4 1018.2 L1374.8 1018.8 L1377.3 1019.3 L1379.7 1019.9 L1382.2 1020.4 L1384.6 1020.9 L1387.1 1021.3 L1389.5 1021.8 L1392.0 1022.2 L1394.4 1022.6 L1396.8 1023.0 L1399.3 1023.4 L1401.7 1023.7 L1404.2 1024.1 L1406.6 1024.4 L1409.1 1024.7 L1411.5 1025.0 L1414.0 1025.3 L1416.4 1025.6 L1418.9 1025.8 L1421.3 1026.1 L1423.8 1026.3 L1426.2 1026.5 L1428.6 1026.7 L1431.1 1026.9 L1433.5 1027.1 L1436.0 1027.3 L1438.4 1027.4 L1440.9 1027.6 L1443.3 1027.8 L1445.8 1027.9 L1448.2 1028.1 L1450.7 1028.2 L1453.1 1028.3 L1455.5 1028.4 L1458.0 1028.5 L1460.4 1028.6 L1462.9 1028.7 L1465.3 1028.8 L1467.8 1028.9 L1470.2 1029.0 L1472.7 1029.1 L1475.1 1029.2 L1477.6 1029.2 L1480.0 1029.3 L1482.5 1029.4 L1484.9 1029.4 L1487.3 1029.5 L1489.8 1029.6 L1492.2 1029.6 L1494.7 1029.7 L1497.1 1029.7 L1499.6 1029.7 L1502.0 1029.8 L1504.5 1029.8 L1506.9 1029.9 L1509.4 1029.9 L1511.8 1029.9 L1514.2 1030.0 L1516.7 1030.0 L1519.1 1030.0 L1521.6 1030.0 L1524.0 1030.1 L1526.5 1030.1 L1528.9 1030.1 L1531.4 1030.1 L1533.8 1030.1 L1536.3 1030.2 L1538.7 1030.2 L1541.2 1030.2 L1543.6 1030.2 L1546.0 1030.2 L1548.5 1030.2 L1550.9 1030.2 L1553.4 1030.2 L1555.8 1030.3 L1558.3 1030.3 L1560.7 1030.3 L1563.2 1030.3 L1565.6 1030.3 L1568.1 1030.3 L1570.5 1030.3 L1573.0 1030.3 L1575.4 1030.3 L1577.8 1030.3 L1580.3 1030.3 L1582.7 1030.3 L1585.2 1030.3 L1587.6 1030.3 L1590.1 1030.3 L1592.5 1030.4 L1595.0 1030.4 L1597.4 1030.4 L1599.9 1030.4 L1602.3 1030.4 L1604.7 1030.4 L1607.2 1030.4 L1609.6 1030.4 L1612.1 1030.4 L1614.5 1030.4 L1617.0 1030.4 L1619.4 1030.4 L1621.9 1030.4 L1624.3 1030.4 L1626.8 1030.4 L1629.2 1030.4 L1631.7 1030.4 L1634.1 1030.4 L1636.5 1030.4 L1639.0 1030.4 L1641.4 1030.4 L1643.9 1030.4 L1646.3 1030.4 L1648.8 1030.4 L1651.2 1030.4 L1653.7 1030.4 L1656.1 1030.4 L1658.6 1030.4 L1661.0 1030.4" stroke-width="5.3" stroke-dasharray="20.3 25.65" stroke-dashoffset="0"/>
<path d="M193.5 1148.7 H200.9 V1148.7 H208.2 V1148.6 H215.6 V1148.5 H223.0 V1148.4 H230.4 V1148.3 H237.7 V1148.2 H245.1 V1148.0 H252.5 V1147.9 H259.9 V1147.7 H267.2 V1147.5 H274.6 V1147.3 H282.0 V1147.0 H289.4 V1146.7 H296.7 V1146.4 H304.1 V1146.1 H311.5 V1145.7 H318.9 V1145.2 H326.2 V1144.8 H333.6 V1144.2 H341.0 V1143.6 H348.4 V1143.0 H355.7 V1142.2 H363.1 V1141.4 H370.5 V1140.6 H377.9 V1139.6 H385.2 V1138.5 H392.6 V1137.4 H400.0 V1136.1 H407.4 V1134.7 H414.7 V1133.1 H422.1 V1131.5 H429.5 V1129.6 H436.9 V1127.6 H444.2 V1125.5 H451.6 V1123.1 H459.0 V1120.6 H466.4 V1117.9 H473.7 V1114.9 H481.1 V1111.7 H488.5 V1108.2 H495.8 V1104.5 H503.2 V1100.5 H510.6 V1096.3 H518.0 V1091.7 H525.3 V1086.8 H532.7 V1081.5 H540.1 V1075.9 H547.5 V1070.0 H554.8 V1063.6 H562.2 V1056.9 H569.6 V1049.8 H577.0 V1042.2 H584.3 V1034.2 H591.7 V1025.8 H599.1 V1016.9 H606.5 V1007.6 H613.8 V997.8 H621.2 V987.5 H628.6 V976.7 H636.0 V965.4 H643.3 V953.7 H650.7 V941.4 H658.1 V928.6 H665.5 V915.4 H672.8 V901.6 H680.2 V887.4 H687.6 V872.7 H695.0 V857.5 H702.3 V841.9 H709.7 V825.8 H717.1 V809.3 H724.5 V792.4 H731.8 V775.1 H739.2 V757.5 H746.6 V739.6 H754.0 V721.3 H761.3 V702.8 H768.7 V684.1 H776.1 V665.2 H783.4 V646.1 H790.8 V627.0 H798.2 V607.7 H805.6 V588.5 H812.9 V569.3 H820.3 V550.2 H827.7 V531.2 H835.1 V512.3 H842.4 V493.8 H849.8 V475.5 H857.2 V457.6 H864.6 V440.0 H871.9 V422.9 H879.3 V406.4 H886.7 V390.3 H894.1 V374.9 H901.4 V360.2 H908.8 V346.2 H916.2 V332.9 H923.6 V320.4 H930.9 V308.8 H938.3 V298.1 H945.7 V288.3 H953.1 V279.4 H960.4 V271.6 H967.8 V264.7 H975.2 V259.0 H982.6 V254.2 H989.9 V250.6 H997.3 V248.1 H1004.7 V246.7 H1012.1 V246.3 H1019.4 V247.2 H1026.8 V249.1 H1034.2 V252.1 H1041.6 V256.2 H1048.9 V261.4 H1056.3 V267.7 H1063.7 V274.9 H1071.1 V283.2 H1078.4 V292.5 H1085.8 V302.7 H1093.2 V313.9 H1100.5 V325.9 H1107.9 V338.7 H1115.3 V352.3 H1122.7 V366.7 H1130.0 V381.7 H1137.4 V397.4 H1144.8 V413.7 H1152.2 V430.5 H1159.5 V447.8 H1166.9 V465.5 H1174.3 V483.6 H1181.7 V502.0 H1189.0 V520.7 H1196.4 V539.6 H1203.8 V558.7 H1211.2 V577.9 H1218.5 V597.1 H1225.9 V616.3 H1233.3 V635.5 H1240.7 V654.6 H1248.0 V673.6 H1255.4 V692.5 H1262.8 V711.1 H1270.2 V729.5 H1277.5 V747.6 H1284.9 V765.4 H1292.3 V782.9 H1299.7 V800.0 H1307.0 V816.7 H1314.4 V833.0 H1321.8 V848.9 H1329.2 V864.3 H1336.5 V879.3 H1343.9 V893.8 H1351.3 V907.8 H1358.7 V921.4 H1366.0 V934.4 H1373.4 V946.9 H1380.8 V959.0 H1388.1 V970.5 H1395.5 V981.6 H1402.9 V992.1 H1410.3 V1002.2 H1417.6 V1011.8 H1425.0 V1021.0 H1432.4 V1029.6 H1439.8 V1037.9 H1447.1 V1045.7 H1454.5 V1053.0 H1461.9 V1060.0 H1469.3 V1066.5 H1476.6 V1072.7 H1484.0 V1078.5 H1491.4 V1083.9 H1498.8 V1089.0 H1506.1 V1093.8 H1513.5 V1098.2 H1520.9 V1102.4 H1528.3 V1106.2 H1535.6 V1109.8 H1543.0 V1113.1 H1550.4 V1116.2 H1557.8 V1119.1 H1565.1 V1121.8 H1572.5 V1124.2 H1579.9 V1126.5 H1587.3 V1128.6 H1594.6 V1130.5 H1602.0 V1132.2 H1609.4 V1133.8 H1616.8 V1135.3 H1624.1 V1136.7 H1631.5 V1137.9 H1638.9 V1139.0 H1646.3 V1140.0 H1653.6 V1141.0 H1661.0 V1141.8" stroke-width="5" stroke-linejoin="miter" stroke-linecap="butt"/>
</g>
<g fill="#000" shape-rendering="crispEdges">
<rect x="192" y="78" width="3" height="1192"/>
<rect x="1659" y="78" width="4" height="1192"/>
<rect x="192" y="78" width="1471" height="4"/>
<rect x="192" y="1266" width="1471" height="4"/>
<rect x="193" y="1147.2" width="12.5" height="4"/>
<rect x="193" y="1028.4" width="23.5" height="4"/>
<rect x="193" y="909.6" width="12.5" height="4"/>
<rect x="193" y="790.8" width="23.5" height="4"/>
<rect x="193" y="672.0" width="12.5" height="4"/>
<rect x="193" y="553.2" width="23.5" height="4"/>
<rect x="193" y="434.4" width="12.5" height="4"/>
<rect x="193" y="315.6" width="23.5" height="4"/>
<rect x="193" y="196.8" width="12.5" height="4"/>
<rect x="436.4" y="1255.5" width="3.4" height="12.5"/>
<rect x="681.0" y="1244.5" width="3.4" height="23.5"/>
<rect x="925.5" y="1255.5" width="3.4" height="12.5"/>
<rect x="1170.1" y="1244.5" width="3.4" height="23.5"/>
<rect x="1414.7" y="1255.5" width="3.4" height="12.5"/>
</g>
<text transform="translate(194.5 1349.8) scale(0.9740 1)" font-size="76.3" text-anchor="middle">0</text>
<text transform="translate(684.1 1349.8) scale(0.9740 1)" font-size="76.3" text-anchor="middle" letter-spacing="-1.20">100</text>
<text transform="translate(1172.0 1349.8) scale(0.9740 1)" font-size="76.3" text-anchor="middle" letter-spacing="-0.40">200</text>
<text transform="translate(1660.4 1349.8) scale(0.9740 1)" font-size="76.3" text-anchor="middle" letter-spacing="-0.50">300</text>
<text transform="translate(169.0 1290.2) scale(0.9740 1)" font-size="76.3" text-anchor="end">0</text>
<text transform="translate(169.0 1052.6) scale(0.9740 1)" font-size="76.3" text-anchor="end">1</text>
<text transform="translate(169.2 815.0) scale(0.9740 1)" font-size="76.3" text-anchor="end">2</text>
<text transform="translate(167.0 577.4) scale(0.9740 1)" font-size="76.3" text-anchor="end">3</text>
<text transform="translate(169.0 339.8) scale(0.9740 1)" font-size="76.3" text-anchor="end">4</text>
<text transform="translate(167.2 102.2) scale(0.9740 1)" font-size="76.3" text-anchor="end">5</text>
<text transform="translate(927.4 1435.8) scale(0.9560 1)" font-size="76.0" text-anchor="middle">Chord length (μm)</text>
<text transform="translate(103.9 674.6) rotate(-90) scale(0.9610 1)" font-size="76.0" text-anchor="middle">Air content (%)</text>
<g fill="none" stroke="#000" stroke-width="5" stroke-linecap="square">
<path d="M217.5 119.5 H345.5" stroke-dasharray="20 26"/>
<path d="M217.5 190.0 H345.5" stroke-dasharray="23.5 15.5 3 15.5"/>
<path d="M217.5 260.5 H345.5"/>
<path d="M217.5 331.0 H345.5" stroke-dasharray="17 15.5 3 15.5 3 15.5"/>
<path d="M217.5 401.5 H345.5" stroke-dasharray="20 26"/>
</g>
<text transform="translate(358.6 139.7) scale(1.0120 1)" font-size="56.8" text-anchor="start">NSC-0.5</text>
<text transform="translate(358.6 210.0) scale(1.0120 1)" font-size="56.8" text-anchor="start">MR5N3</text>
<text transform="translate(358.6 280.2) scale(1.0120 1)" font-size="56.8" text-anchor="start">MRC-5</text>
<text transform="translate(358.6 350.6) scale(1.0120 1)" font-size="56.8" text-anchor="start">RC-7.5</text>
<text transform="translate(358.6 420.9) scale(1.0120 1)" font-size="56.8" text-anchor="start">Control</text>
</svg></body></html>
